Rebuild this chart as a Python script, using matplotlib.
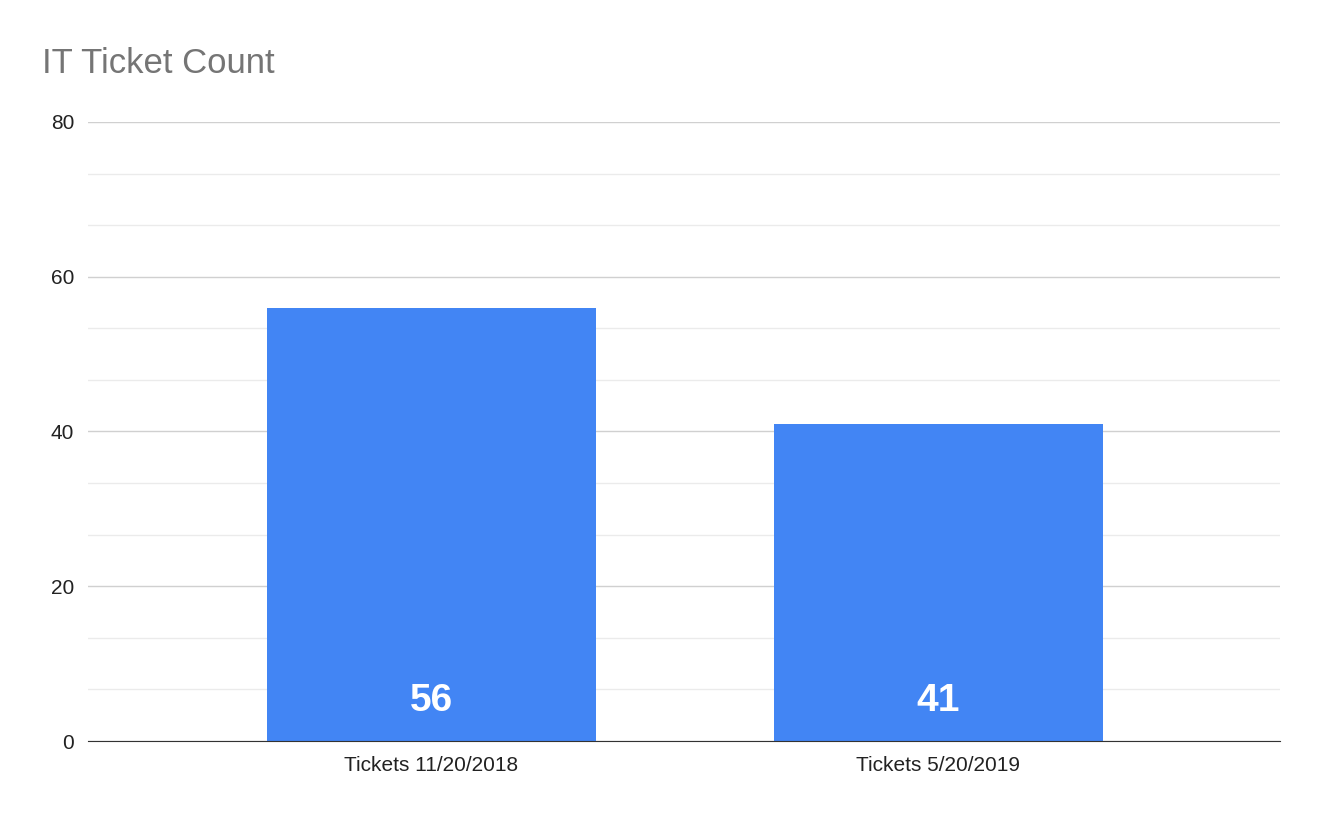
import matplotlib.pyplot as plt
from matplotlib.ticker import MultipleLocator

categories = ["Tickets 11/20/2018", "Tickets 5/20/2019"]
tickets = [56, 41]

plt.rcParams['font.family'] = ['Liberation Sans', 'DejaVu Sans']

fig = plt.figure(figsize=(13.22, 8.18), dpi=100)
ax = fig.add_axes([0.0666, 0.0941, 0.9016, 0.7568])

x = range(len(categories))
bars = ax.bar(x, tickets, width=0.649, color='#4285f4', zorder=3)

# value labels near the bottom of each bar
for b, v in zip(bars, tickets):
    ax.text(b.get_x() + b.get_width() / 2, 5.2, str(v), ha='center', va='center',
            color='white', fontsize=28, fontweight='bold', zorder=4)

ax.set_xlim(-0.6775, 1.6736)
ax.set_ylim(0, 80)
ax.yaxis.set_major_locator(MultipleLocator(20))
ax.yaxis.set_minor_locator(MultipleLocator(20 / 3))
ax.grid(which='major', axis='y', color='#d0d0d0', linewidth=1, zorder=0)
ax.grid(which='minor', axis='y', color='#ebebeb', linewidth=1, zorder=0)
ax.set_xticks(list(x))
ax.set_xticklabels(categories)

for s in ['top', 'right', 'left']:
    ax.spines[s].set_visible(False)
ax.spines['bottom'].set_color('#333333')
ax.spines['bottom'].set_zorder(5)
ax.tick_params(axis='both', which='both', length=0, labelsize=15, colors='#222222')
ax.tick_params(axis='y', pad=10)
ax.tick_params(axis='x', pad=11)

fig.text(0.0318, 0.922, "IT Ticket Count", fontsize=25, color='#757575', ha='left', va='center')

fig.savefig("out.png", dpi=100, facecolor='white')
